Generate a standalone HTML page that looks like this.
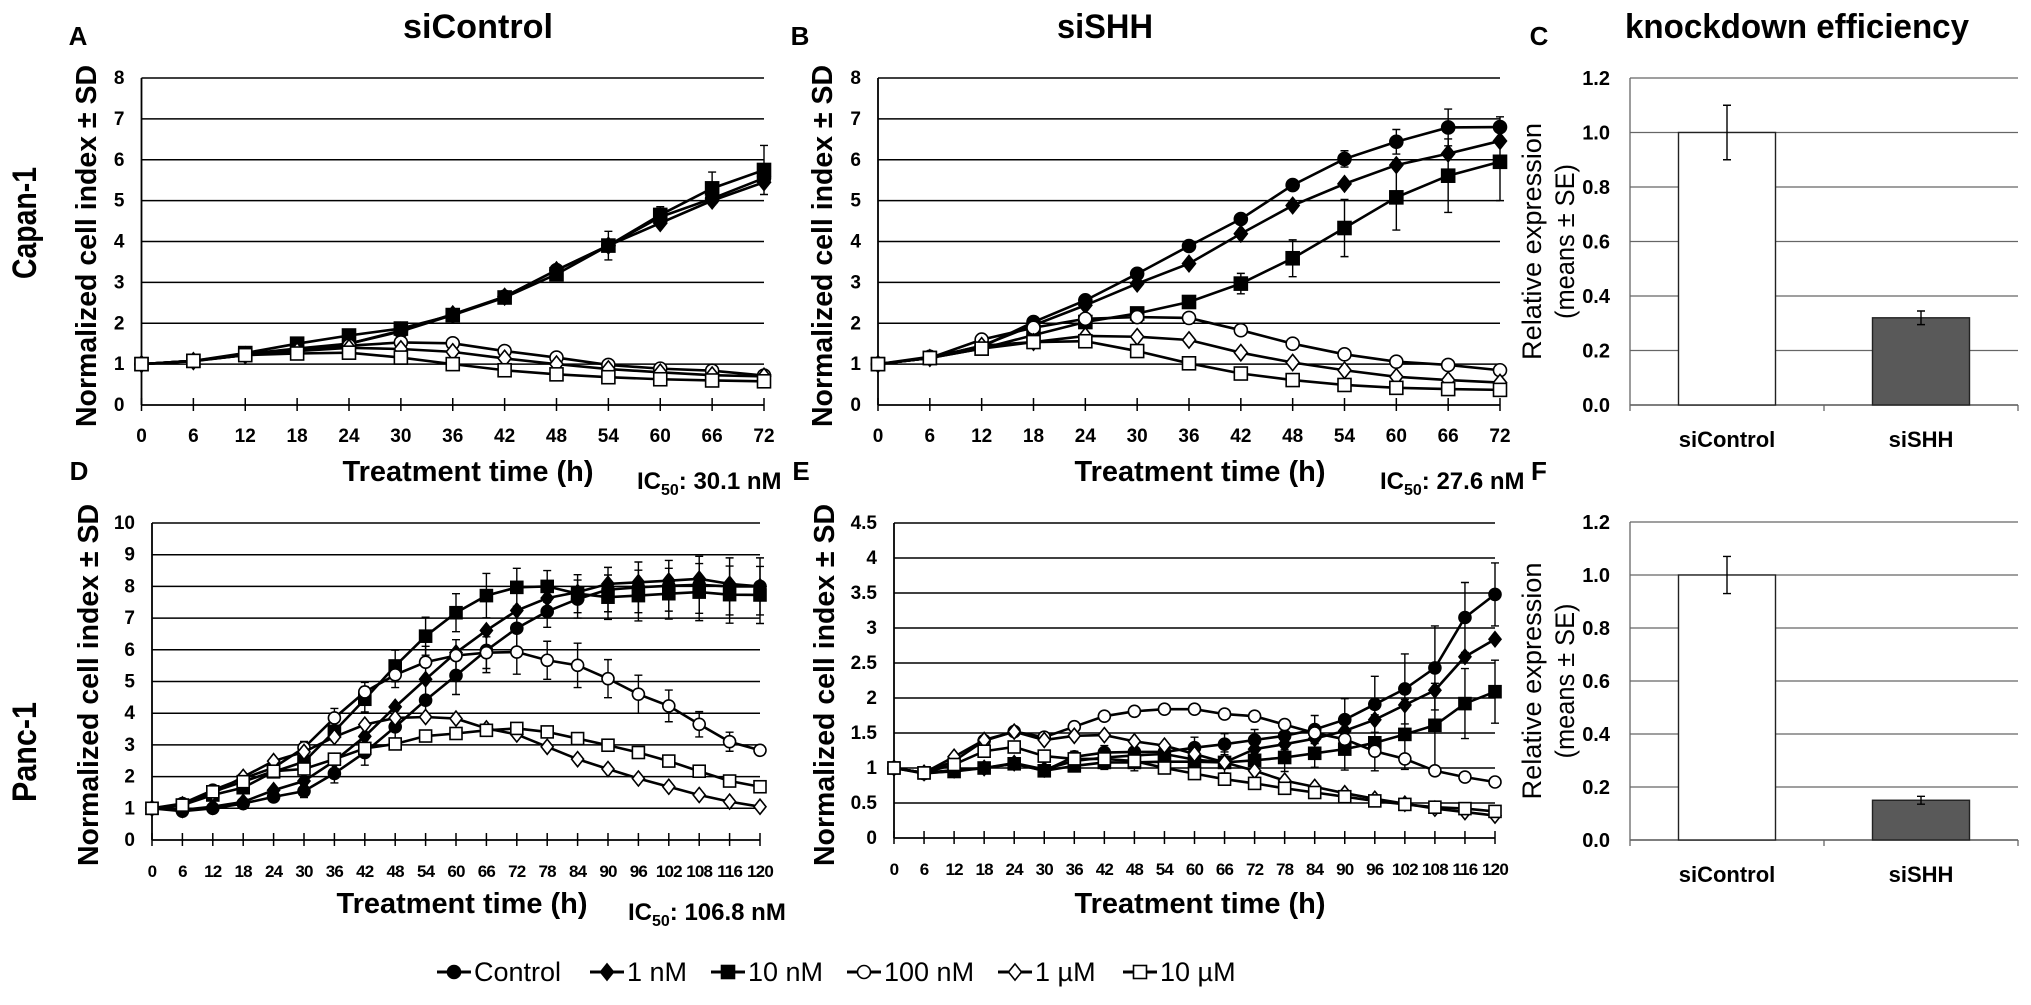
<!DOCTYPE html>
<html><head><meta charset="utf-8"><style>
html,body{margin:0;padding:0;background:#fff;}
svg{display:block;}
text{font-family:"Liberation Sans Narrow","Liberation Sans",sans-serif;fill:#000;}
</style></head><body>
<svg id="fig" xmlns="http://www.w3.org/2000/svg" width="2031" height="1005" viewBox="0 0 2031 1005"></svg>
<script>
// ---------- data ----------
const hoursShort = ["0","6","12","18","24","30","36","42","48","54","60","66","72"];
const hoursLong = ["0","6","12","18","24","30","36","42","48","54","60","66","72","78","84","90","96","102","108","116","120"];
const seriesNames = ["Control","1 nM","10 nM","100 nM","1 µM","10 µM"];
// Panel A (Capan-1, siControl)
const aControl = [1,1.08,1.25,1.38,1.5,1.8,2.2,2.65,3.3,3.9,4.6,5.05,5.55];
const a1nM     = [1,1.07,1.22,1.35,1.5,1.82,2.22,2.65,3.3,3.9,4.45,5.0,5.45];
const a10nM    = [1,1.08,1.27,1.5,1.7,1.87,2.2,2.63,3.2,3.9,4.65,5.3,5.75];
const a100nM   = [1,1.08,1.22,1.32,1.45,1.53,1.51,1.32,1.16,0.98,0.89,0.84,0.72];
const a1uM     = [1,1.08,1.22,1.32,1.4,1.37,1.3,1.14,1.0,0.88,0.8,0.73,0.7];
const a10uM    = [1,1.08,1.22,1.26,1.28,1.16,1.0,0.85,0.75,0.68,0.63,0.6,0.58];
const aErr10nM = [0,0.05,0.05,0.08,0.08,0.08,0.08,0.08,0.1,0.35,0.2,0.4,0.6];
// Panel B (Capan-1, siSHH)
const bControl = [1,1.18,1.42,2.03,2.56,3.21,3.89,4.55,5.38,6.02,6.44,6.79,6.8];
const b1nM     = [1,1.15,1.45,1.95,2.44,2.97,3.46,4.19,4.88,5.41,5.87,6.15,6.46];
const b10nM    = [1,1.15,1.38,1.71,2.03,2.24,2.52,2.97,3.59,4.33,5.08,5.61,5.95];
const b100nM   = [1,1.15,1.6,1.89,2.11,2.15,2.13,1.83,1.5,1.24,1.06,0.98,0.85];
const b1uM     = [1,1.15,1.45,1.54,1.69,1.67,1.59,1.28,1.04,0.85,0.69,0.61,0.55];
const b10uM    = [1,1.15,1.38,1.54,1.56,1.32,1.02,0.77,0.61,0.49,0.42,0.39,0.37];
const bErrCtrl = [0,0.05,0.05,0.08,0.08,0.1,0.1,0.1,0.12,0.2,0.3,0.45,0.25];
const bErr10nM = [0,0.05,0.05,0.08,0.1,0.12,0.1,0.25,0.45,0.7,0.8,0.9,0.95];
// Panel D (Panc-1, siControl)
const dControl = [1,0.91,1.0,1.15,1.36,1.54,2.1,2.76,3.57,4.41,5.19,5.98,6.68,7.21,7.6,7.9,7.97,8.02,8.05,8.0,8.0];
const d1nM     = [1,0.95,1.05,1.2,1.57,1.86,2.49,3.27,4.2,5.07,5.91,6.61,7.24,7.63,7.82,8.08,8.13,8.18,8.24,8.08,8.0];
const d10nM    = [1,1.1,1.42,1.65,2.15,2.47,3.43,4.44,5.49,6.43,7.17,7.71,7.97,8.0,7.77,7.66,7.71,7.77,7.82,7.74,7.73];
const d100nM   = [1,1.15,1.57,1.94,2.28,2.91,3.85,4.67,5.21,5.61,5.82,5.91,5.93,5.67,5.51,5.09,4.6,4.23,3.65,3.1,2.83];
const d1uM     = [1,1.12,1.47,1.99,2.49,2.78,3.25,3.64,3.85,3.88,3.83,3.52,3.33,2.94,2.55,2.24,1.94,1.68,1.42,1.21,1.05];
const d10uM    = [1,1.1,1.52,1.84,2.17,2.24,2.55,2.89,3.03,3.28,3.36,3.46,3.52,3.41,3.2,2.99,2.76,2.49,2.17,1.86,1.68];
const dErrHigh = [0,0.05,0.1,0.1,0.15,0.2,0.3,0.4,0.5,0.6,0.6,0.7,0.6,0.5,0.6,0.7,0.8,0.8,0.9,0.9,0.9];
const dErr100  = [0,0.05,0.1,0.1,0.2,0.2,0.3,0.3,0.4,0.5,0.5,0.5,0.7,0.6,0.7,0.6,0.6,0.5,0.4,0.3,0.15];
// Panel E (Panc-1, siSHH)
const eControl = [1,0.92,0.96,1.0,1.06,0.96,1.16,1.22,1.23,1.23,1.29,1.34,1.4,1.46,1.55,1.69,1.91,2.13,2.43,3.15,3.48];
const e1nM     = [1,0.93,0.97,1.0,1.07,0.98,1.1,1.15,1.18,1.2,1.12,1.08,1.27,1.34,1.42,1.53,1.69,1.9,2.11,2.59,2.84];
const e10nM    = [1,0.93,0.95,1.0,1.06,0.96,1.03,1.08,1.08,1.09,1.09,1.08,1.11,1.15,1.21,1.27,1.36,1.48,1.61,1.92,2.09];
const e100nM   = [1,0.93,1.1,1.39,1.52,1.44,1.59,1.74,1.81,1.84,1.84,1.77,1.74,1.62,1.5,1.41,1.24,1.13,0.96,0.87,0.8];
const e1uM     = [1,0.93,1.16,1.4,1.52,1.4,1.46,1.47,1.38,1.32,1.2,1.08,0.96,0.82,0.73,0.64,0.56,0.49,0.42,0.37,0.32];
const e10uM    = [1,0.93,1.05,1.24,1.3,1.17,1.13,1.13,1.1,1.0,0.92,0.84,0.78,0.71,0.65,0.59,0.53,0.48,0.44,0.42,0.38];
const eErrHigh = [0,0.03,0.05,0.05,0.06,0.06,0.08,0.1,0.12,0.12,0.15,0.15,0.15,0.2,0.2,0.3,0.4,0.5,0.6,0.5,0.45];
// Bar panels C and F
const barCats = ["siControl","siSHH"];
const cValues = [1.0,0.32];
const cErrors = [0.1,0.025];
const fValues = [1.0,0.15];
const fErrors = [0.07,0.015];
const lineTicksA = ["0","1","2","3","4","5","6","7","8"];
const lineTicksD = ["0","1","2","3","4","5","6","7","8","9","10"];
const lineTicksE = ["0","0.5","1","1.5","2","2.5","3","3.5","4","4.5"];
const barTicks = ["0.0","0.2","0.4","0.6","0.8","1.0","1.2"];

// ---------- helpers ----------
const NS="http://www.w3.org/2000/svg";
const svg=document.getElementById('fig');
function mk(tag,attrs,parent){const e=document.createElementNS(NS,tag);for(const k in attrs)e.setAttribute(k,attrs[k]);(parent||svg).appendChild(e);return e;}
function txt(s,attrs,parent){const e=mk('text',attrs,parent);e.textContent=s;return e;}
const markerTypes=["circle","diamond","square","circle","diamond","square"];
const markerFill=["#000","#000","#000","#fff","#fff","#fff"];
function marker(g,type,fill,x,y,r){
  let e;
  if(type==="circle") e=mk('circle',{cx:x,cy:y,r:r,fill:fill,stroke:'#000','stroke-width':1.6},g);
  else if(type==="square") e=mk('rect',{x:x-r,y:y-r,width:2*r,height:2*r,fill:fill,stroke:'#000','stroke-width':1.6},g);
  else e=mk('polygon',{points:`${x},${y-r*1.25} ${x+r},${y} ${x},${y+r*1.25} ${x-r},${y}`,fill:fill,stroke:'#000','stroke-width':1.6},g);
  return e;
}

function linePanel(id,cfg){
  const g=mk('g',{});
  
  
  const {x0,x1,y0,y1,ymax,ticks,cats,series,errs}=cfg;
  const n=cats.length;
  const xs=i=>x0+(x1-x0)*i/(n-1);
  const ys=v=>y0-(y0-y1)*v/ymax;
  ticks.forEach(t=>{
    const v=parseFloat(t),y=ys(v);
    const gl=mk('line',{x1:x0,x2:x1,y1:y,y2:y,stroke:'#000','stroke-width':v===0?1.8:1.5},g);
    
    
    const tl=txt(t,{x:x0-17,y:y+6,'text-anchor':'end','font-size':19,'font-weight':'bold','font-family':'Liberation Sans, sans-serif'},g);
    
    
  });
  const ax=mk('line',{x1:x0,x2:x0,y1:y1,y2:y0,stroke:'#000','stroke-width':1.8},g);
  
  
  cats.forEach((c,i)=>{
    const x=xs(i);
    const tk=mk('line',{x1:x,x2:x,y1:y0-7,y2:y0+6,stroke:'#000','stroke-width':1.5},g);
    
    
    const tl=txt(c,{x:x,y:y0+37,'text-anchor':'middle','font-size':n>13?17:19,'font-weight':'bold','font-family':'Liberation Sans, sans-serif'},g);
    if(n>13) tl.setAttribute('letter-spacing','-0.8');
    
    
  });
  series.forEach((vals,si)=>{
    const sg=mk('g',{},g);
    
    
    const e=errs[si];
    if(e){vals.forEach((v,i)=>{if(!e[i])return;const x=xs(i);
      const eb=mk('path',{d:`M${x},${ys(v+e[i])}V${ys(v-e[i])}M${x-4},${ys(v+e[i])}H${x+4}M${x-4},${ys(v-e[i])}H${x+4}`,stroke:'#000','stroke-width':1.4,fill:'none'},sg);
      
      });}
    const pl=mk('polyline',{points:vals.map((v,i)=>xs(i)+','+ys(v)).join(' '),fill:'none',stroke:'#000','stroke-width':2.6},sg);
    
    
    vals.forEach((v,i)=>{const m=marker(sg,markerTypes[si],markerFill[si],xs(i),ys(v),n>13?6:6.5);
      
      });
  });
  return g;
}

function barPanel(id,cfg){
  const g=mk('g',{});
  
  
  const {x0,x1,y0,y1,vals,errs}=cfg;
  const ymax=1.2;
  const ys=v=>y0-(y0-y1)*v/ymax;
  const cw=(x1-x0)/barCats.length;
  barTicks.forEach(t=>{const v=parseFloat(t),y=ys(v);
    const gl=mk('line',{x1:x0,x2:x1,y1:y,y2:y,stroke:v===0?'#555':'#666','stroke-width':v===0?1.5:1.2},g);
    
    
    const tl=txt(t,{x:x0-20,y:y+7,'text-anchor':'end','font-size':20,'font-weight':'bold','font-family':'Liberation Sans, sans-serif'},g);
    
    });
  const ax=mk('line',{x1:x0,x2:x0,y1:y1,y2:y0,stroke:'#666','stroke-width':1.3},g);
  
  
  [0,1,2].forEach(i=>{const x=x0+cw*i;const tk=mk('line',{x1:x,x2:x,y1:y0,y2:y0+6,stroke:'#666','stroke-width':1.3},g);
    
    });
  barCats.forEach((c,i)=>{const cx=x0+cw*(i+0.5),bw=cw*0.5,v=vals[i],e=errs[i];
    const b=mk('rect',{x:cx-bw/2,y:ys(v),width:bw,height:y0-ys(v),fill:i===0?'#fff':'#595959',stroke:'#222','stroke-width':1.4},g);
    
    
    const eb=mk('path',{d:`M${cx},${ys(v+e)}V${ys(v-e)}M${cx-4},${ys(v+e)}H${cx+4}M${cx-4},${ys(v-e)}H${cx+4}`,stroke:'#000','stroke-width':1.4,fill:'none'},g);
    
    
    const tl=txt(c,{x:cx,y:y0+42,'text-anchor':'middle','font-size':22,'font-weight':'bold','font-family':'Liberation Sans, sans-serif'},g);
    
    });
  const yc=(y0+y1)/2;
  const t1=txt('Relative expression',{x:0,y:0,transform:`translate(1541,${yc}) rotate(-90)`,'text-anchor':'middle','font-size':27,textLength:237,lengthAdjust:'spacingAndGlyphs'},g);
  
  
  const t2=txt('(means ± SE)',{x:0,y:0,transform:`translate(1574,${yc}) rotate(-90)`,'text-anchor':'middle','font-size':27,textLength:155,lengthAdjust:'spacingAndGlyphs'},g);
  
  
}

// ---------- panels ----------
linePanel('panel-a',{x0:141.5,x1:764,y0:405,y1:78,ymax:8,ticks:lineTicksA,cats:hoursShort,
  series:[aControl,a1nM,a10nM,a100nM,a1uM,a10uM],errs:[null,null,aErr10nM,null,null,null]});
linePanel('panel-b',{x0:878,x1:1500,y0:405,y1:78,ymax:8,ticks:lineTicksA,cats:hoursShort,
  series:[bControl,b1nM,b10nM,b100nM,b1uM,b10uM],errs:[bErrCtrl,null,bErr10nM,null,null,null]});
linePanel('panel-d',{x0:152,x1:760,y0:840,y1:523,ymax:10,ticks:lineTicksD,cats:hoursLong,
  series:[dControl,d1nM,d10nM,d100nM,d1uM,d10uM],errs:[dErrHigh,null,dErrHigh,dErr100,null,null]});
linePanel('panel-e',{x0:894,x1:1495,y0:838,y1:523,ymax:4.5,ticks:lineTicksE,cats:hoursLong,
  series:[eControl,e1nM,e10nM,e100nM,e1uM,e10uM],errs:[eErrHigh,null,eErrHigh,null,null,null]});
barPanel('panel-c',{x0:1630,x1:2018,y0:405,y1:78,vals:cValues,errs:cErrors});
barPanel('panel-f',{x0:1630,x1:2018,y0:840,y1:522,vals:fValues,errs:fErrors});

// ---------- static labels ----------
function label(s,name,attrs){const e=txt(s,attrs);return e;}
label('siControl','title-sicontrol',{x:478,y:38,'text-anchor':'middle','font-size':34,'font-weight':'bold','font-family':'Liberation Sans, sans-serif',textLength:150,lengthAdjust:'spacingAndGlyphs'});
label('siSHH','title-sishh',{x:1105,y:38,'text-anchor':'middle','font-size':34,'font-weight':'bold','font-family':'Liberation Sans, sans-serif',textLength:96,lengthAdjust:'spacingAndGlyphs'});
label('knockdown efficiency','title-knockdown',{x:1797,y:38,'text-anchor':'middle','font-size':34,'font-weight':'bold','font-family':'Liberation Sans, sans-serif',textLength:344,lengthAdjust:'spacingAndGlyphs'});
[['A',78,45],['B',800,45],['C',1539,45],['D',79,480],['E',801,480],['F',1539,480]].forEach(p=>{
  label(p[0],'panel-label-'+p[0].toLowerCase(),{x:p[1],y:p[2],'text-anchor':'middle','font-size':26,'font-weight':'bold','font-family':'Liberation Sans, sans-serif'});});
label('Capan-1','row-label-capan1',{x:0,y:0,transform:'translate(36,223) rotate(-90)','text-anchor':'middle','font-size':34,'font-weight':'bold','font-family':'Liberation Sans, sans-serif',textLength:112,lengthAdjust:'spacingAndGlyphs'});
label('Panc-1','row-label-panc1',{x:0,y:0,transform:'translate(36,752) rotate(-90)','text-anchor':'middle','font-size':34,'font-weight':'bold','font-family':'Liberation Sans, sans-serif',textLength:100,lengthAdjust:'spacingAndGlyphs'});
[[86,246],[822,246],[88,685],[824,685]].forEach((p,i)=>{
  label('Normalized cell index ± SD','y-axis-title-'+['a','b','d','e'][i],{x:0,y:0,transform:`translate(${p[0]+10},${p[1]}) rotate(-90)`,'text-anchor':'middle','font-size':29,'font-weight':'bold',textLength:362,lengthAdjust:'spacingAndGlyphs'});});
[[468,481],[1200,481],[462,913],[1200,913]].forEach((p,i)=>{
  label('Treatment time (h)','x-axis-title-'+['a','b','d','e'][i],{x:p[0],y:p[1],'text-anchor':'middle','font-size':29,'font-weight':'bold',textLength:251,lengthAdjust:'spacingAndGlyphs'});});
function ic50(val,x,y,w,name){
  const e=mk('text',{x:x,y:y,'font-size':24,'font-weight':'bold'});
  
  
  const a=document.createElementNS(NS,'tspan');a.textContent='IC';e.appendChild(a);
  const b=document.createElementNS(NS,'tspan');b.setAttribute('font-size','16');b.setAttribute('dy','6');b.textContent='50';e.appendChild(b);
  const c=document.createElementNS(NS,'tspan');c.setAttribute('dy','-6');c.textContent=': '+val;e.appendChild(c);
}
ic50('30.1 nM',637,489,137,'ic50-label-a');
ic50('27.6 nM',1380,489,137,'ic50-label-b');
ic50('106.8 nM',628,920,157,'ic50-label-d');

// ---------- legend ----------
const legendStarts=[437,590,711,847,998,1123];
const lg=mk('g',{});


seriesNames.forEach((s,i)=>{
  const x=legendStarts[i],y=972;
  const it=mk('g',{},lg);
  
  
  mk('line',{x1:x,x2:x+34,y1:y,y2:y,stroke:'#000','stroke-width':3},it);
  marker(it,markerTypes[i],markerFill[i],x+17,y,6.5);
  txt(s,{x:x+37,y:y+9,'font-size':27},it);
});
</script>
</body></html>
